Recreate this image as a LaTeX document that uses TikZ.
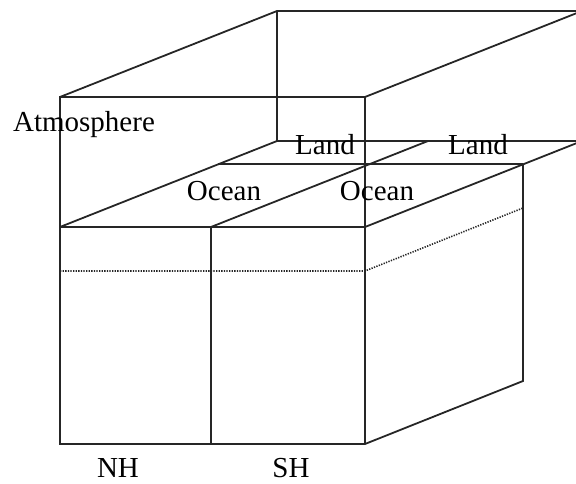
\documentclass[tikz,border=0pt]{standalone}
\usepackage{fontspec}
\setmainfont{Liberation Serif}
\begin{document}
\begin{tikzpicture}[x=1pt,y=1pt,
  edge/.style={line width=1.8pt,line join=miter,draw=black!85},
  dotline/.style={line width=1.6pt,draw=black!85,dash pattern=on 1.3pt off 1.3pt},
  lbl/.style={anchor=base,inner sep=0pt,font=\fontsize{29}{29}\selectfont}]
\useasboundingbox (0,0) rectangle (576,483);
\clip (0,0) rectangle (576,483);
% front corners
\coordinate (atl) at (60,386);
\coordinate (atr) at (365,386);
\coordinate (otl) at (60,256);
\coordinate (otm) at (211,256);
\coordinate (otr) at (365,256);
\coordinate (obl) at (60,39);
\coordinate (obm) at (211,39);
\coordinate (obr) at (365,39);
% back corners
\coordinate (btl) at (277,472);
\coordinate (btr) at (582,472);
\coordinate (bll) at (277,342);
\coordinate (blm) at (428,342);
\coordinate (blr) at (582,342);
% ocean/land boundary and side face
\coordinate (ol) at (218,319);
\coordinate (or) at (523,319);
\coordinate (sb) at (523,102);
\coordinate (dl) at (60,212);
\coordinate (dr) at (365,212);
\coordinate (ds) at (523,275);
% atmosphere box
\draw[edge] (otl) -- (atl) -- (atr) -- (obr);
\draw[edge] (atl) -- (btl) -- (btr);
\draw[edge] (atr) -- (btr);
\draw[edge] (btl) -- (bll) -- (blr);
% surface
\draw[edge] (otl) -- (bll);
\draw[edge] (otm) -- (blm);
\draw[edge] (otr) -- (blr);
\draw[edge] (ol) -- (or);
% ocean box
\draw[edge] (otl) -- (otr);
\draw[edge] (otl) -- (obl) -- (obr) -- (sb) -- (or);
\draw[edge] (otm) -- (obm);
\draw[dotline] (dl) -- (dr) -- (ds);
% labels
\node[lbl] (atm) at (84,351) {Atmosphere};
\node[lbl] (oc1) at (224,283) {Ocean};
\node[lbl] (oc2) at (377,283) {Ocean};
\node[lbl] (la1) at (325,328) {Land};
\node[lbl] (la2) at (478,328) {Land};
\node[lbl] (nh) at (118,6) {NH};
\node[lbl] (sh) at (291,6) {SH};
\end{tikzpicture}
\end{document}
